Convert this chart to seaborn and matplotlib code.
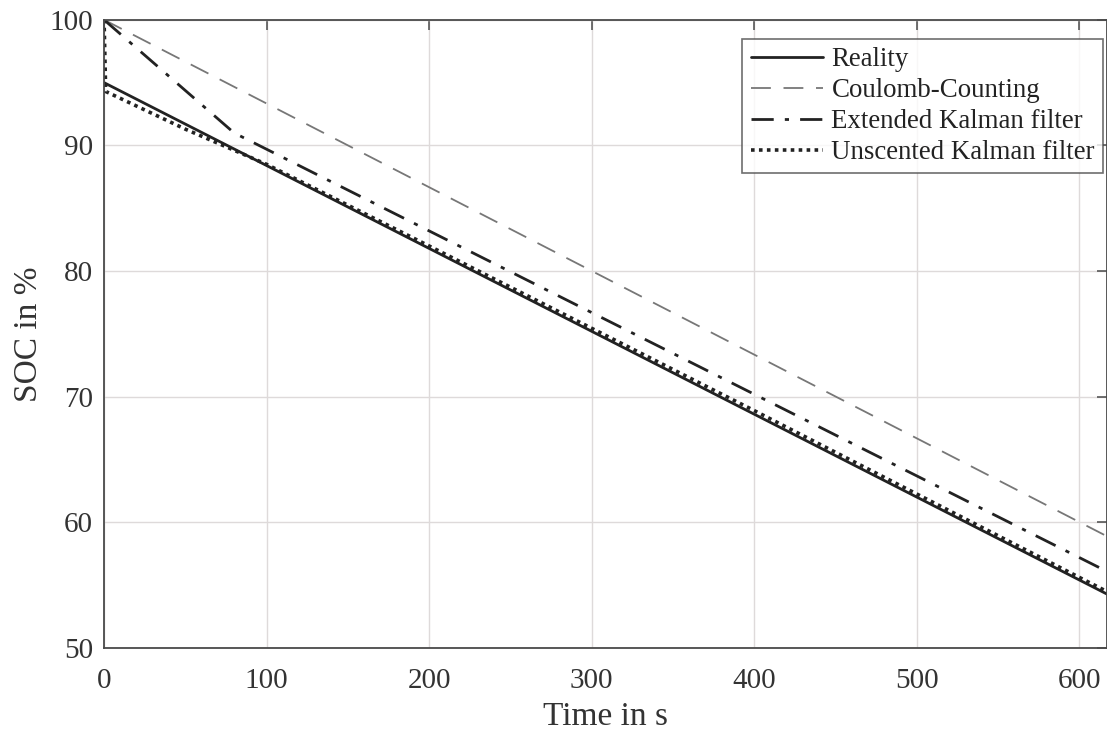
import numpy as np
import pandas as pd
import matplotlib
matplotlib.use("Agg")
import matplotlib.pyplot as plt
import seaborn as sns

# Data
reality_t = [0, 617]
reality_soc = [95.0, 54.3]
coulomb_t = [0, 617]
coulomb_soc = [100.0, 58.9]
ekf_t = [0, 80, 617]
ekf_soc = [100.0, 91.0, 56.1]
ukf_t = [0, 1, 50, 100, 200, 400, 617]
ukf_soc = [100.0, 94.3, 91.3, 88.5, 82.0, 68.9, 54.5]

x_ticks = [0, 100, 200, 300, 400, 500, 600]
y_ticks = [50, 60, 70, 80, 90, 100]

sns.set_style("whitegrid")
plt.rcParams['font.family'] = ['Liberation Serif', 'DejaVu Serif']

fig = plt.figure(figsize=(11.07, 7.34), dpi=100)
ax = fig.add_axes([0.094, 0.117, 0.906, 0.856])

axis_col = '#4a4a4a'
sns.lineplot(x=reality_t, y=reality_soc, ax=ax, color='#222222', lw=2.0,
             label='Reality')
sns.lineplot(x=coulomb_t, y=coulomb_soc, ax=ax, color='#777777', lw=1.3,
             label='Coulomb-Counting')
ax.lines[-1].set_dashes([11, 7])
sns.lineplot(x=ekf_t, y=ekf_soc, ax=ax, color='#222222', lw=2.0,
             label='Extended Kalman filter')
ax.lines[-1].set_dashes([8, 4, 1.5, 4])
sns.lineplot(x=ukf_t, y=ukf_soc, ax=ax, color='#222222', lw=2.6,
             label='Unscented Kalman filter')
ax.lines[-1].set_dashes([1, 1.2])

ax.set_xlim(0, 617)
ax.set_ylim(50, 100)
ax.set_xticks(x_ticks)
ax.set_yticks(y_ticks)
ax.grid(True, color='#dedada', lw=1.0)
for s in ['left', 'bottom', 'top', 'right']:
    ax.spines[s].set_visible(True)
    ax.spines[s].set_color(axis_col)
    ax.spines[s].set_linewidth(1.3)
ax.tick_params(axis='both', direction='in', length=7, width=1.1, color=axis_col,
               labelsize=21, labelcolor='#333333', top=True, right=True)
ax.tick_params(axis='x', pad=14)
ax.tick_params(axis='y', pad=8)
ax.set_xlabel('Time in s', fontsize=24, color='#333333', labelpad=6)
ax.set_ylabel('SOC in %', fontsize=24, color='#333333', labelpad=4)

leg = ax.legend(loc='upper right', bbox_to_anchor=(0.996, 0.969), fontsize=19.4,
                frameon=True, fancybox=False, handlelength=2.7, handletextpad=0.3,
                borderpad=0.3, labelspacing=0.22, borderaxespad=0.0)
leg.get_frame().set_edgecolor(axis_col)
leg.get_frame().set_linewidth(1.2)
for t in leg.get_texts():
    t.set_color('#222222')

fig.savefig('out.png', dpi=100)
